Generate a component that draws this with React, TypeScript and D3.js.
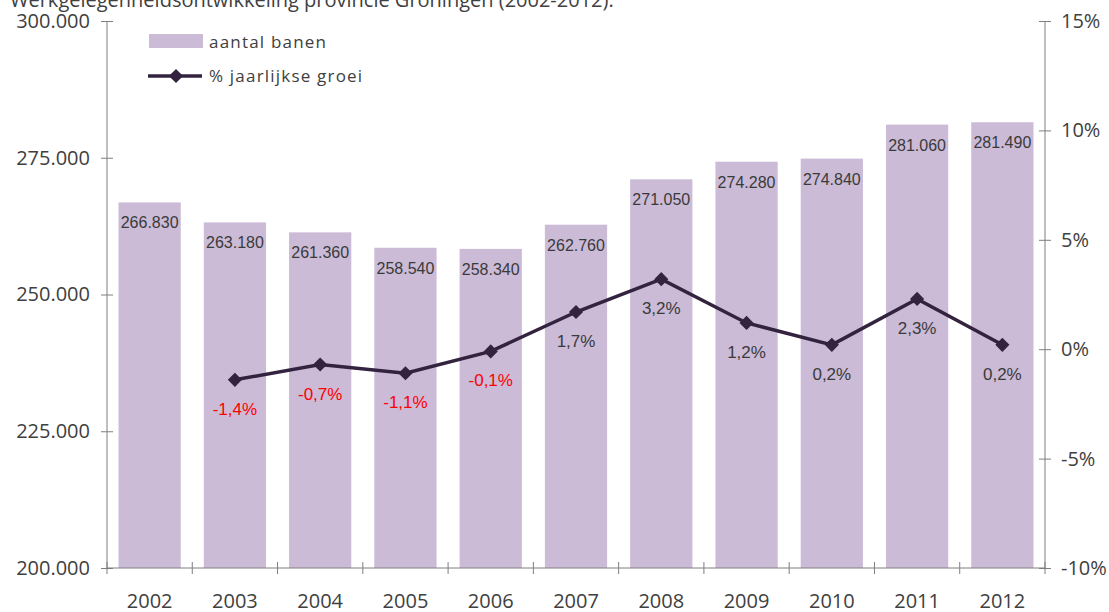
import { useEffect, useRef } from "react";
import * as d3 from "d3";

const years = ["2002", "2003", "2004", "2005", "2006", "2007", "2008", "2009", "2010", "2011", "2012"];
const banen = [266830, 263180, 261360, 258540, 258340, 262760, 271050, 274280, 274840, 281060, 281490];
// groei begins in 2003
const groei = [null, -1.4, -0.7, -1.1, -0.1, 1.7, 3.2, 1.2, 0.2, 2.3, 0.2];
const leftTicks = [200000, 225000, 250000, 275000, 300000];
const rightTicks = [-10, -5, 0, 5, 10, 15];

const title = "Werkgelegenheidsontwikkeling provincie Groningen (2002-2012).";

const fmtNum = (v: number) => d3.format(",")(v).replace(/,/g, ".");
const fmtPct = (v: number) => String(v).replace(".", ",") + "%";

function App() {
  const ref = useRef<SVGSVGElement>(null);

  useEffect(() => {
    const width = 1109;
    const height = 612;
    const left = 107;
    const right = 1045;
    const top = 21;
    const bottom = 568;
    const axisColor = "#7f7f7f";
    const font = "'Open Sans', sans-serif";
    const labelFont = "'Liberation Sans', Arial, sans-serif";

    const svg = d3.select(ref.current).attr("width", width).attr("height", height);
    svg.selectAll("*").remove();

    const x = d3.scaleBand().domain(years).range([left, right]).paddingInner(0).paddingOuter(0);
    const y = d3.scaleLinear().domain([200000, 300000]).range([bottom, top]);
    const y2 = d3.scaleLinear().domain([-10, 15]).range([bottom, top]);
    const barW = x.bandwidth() * 0.73;

    // title (cut off at the top)
    svg.append("text")
      .attr("x", 10).attr("y", 7)
      .attr("font-family", font).attr("font-size", 20).attr("fill", "#404040")
      .text(title);

    // bars
    svg.selectAll(".bar")
      .data(years)
      .join("rect")
      .attr("class", "bar")
      .attr("x", (d) => x(d)! + (x.bandwidth() - barW) / 2)
      .attr("width", barW)
      .attr("y", (d, i) => y(banen[i]))
      .attr("height", (d, i) => bottom - y(banen[i]))
      .attr("fill", "#cbbbd7");

    // bar labels
    svg.selectAll(".barlabel")
      .data(years)
      .join("text")
      .attr("class", "barlabel")
      .attr("x", (d) => x(d)! + x.bandwidth() / 2)
      .attr("y", (d, i) => y(banen[i]) + 26)
      .attr("text-anchor", "middle")
      .attr("font-family", labelFont).attr("font-size", 16).attr("fill", "#3a3a3a")
      .text((d, i) => fmtNum(banen[i]));

    // axes
    const axisL = svg.append("g").attr("transform", `translate(${left},0)`)
      .call(d3.axisLeft(y).tickValues(leftTicks).tickSize(6).tickFormat((d) => fmtNum(+d)));
    const axisR = svg.append("g").attr("transform", `translate(${right},0)`)
      .call(d3.axisRight(y2).tickValues(rightTicks).tickSize(6).tickFormat((d) => d + "%"));
    const axisB = svg.append("g").attr("transform", `translate(0,${bottom})`)
      .call(d3.axisBottom(x).tickSize(0));

    [axisL, axisR, axisB].forEach((g) => {
      g.select(".domain").attr("stroke", axisColor);
      g.selectAll("line").attr("stroke", axisColor);
      g.selectAll("text").attr("font-family", font).attr("font-size", 20).attr("fill", "#404040");
    });
    // ticks crossing the axis lines
    axisL.selectAll(".tick line").attr("x1", 6).attr("x2", -6);
    axisL.select(".domain").attr("d", `M0,${top}V${bottom}`);
    axisL.selectAll(".tick text").attr("x", -17);
    axisR.selectAll(".tick line").attr("x1", -6).attr("x2", 6);
    axisR.select(".domain").attr("d", `M0,${top}V${bottom}`);
    axisR.selectAll(".tick text").attr("x", 16);
    axisB.select(".domain").attr("d", `M${left},0H${right}`);
    axisB.selectAll(".tick text").attr("y", 26);

    // category separators on x axis
    svg.selectAll(".sep")
      .data([...years.map((d) => x(d)!), right])
      .join("line")
      .attr("class", "sep")
      .attr("x1", (d) => d).attr("x2", (d) => d)
      .attr("y1", bottom - 6).attr("y2", bottom + 6)
      .attr("stroke", axisColor);

    // line
    const pts = years
      .map((d, i) => ({ year: d, v: groei[i] }))
      .filter((p) => p.v !== null) as { year: string; v: number }[];
    const cx = (p: { year: string }) => x(p.year)! + x.bandwidth() / 2;
    const lineColor = "#33233f";
    svg.append("path")
      .datum(pts)
      .attr("d", d3.line<{ year: string; v: number }>().x(cx).y((p) => y2(p.v)))
      .attr("fill", "none").attr("stroke", lineColor).attr("stroke-width", 3.5);

    const diamond = d3.symbol().type(d3.symbolSquare).size(100);
    svg.selectAll(".pt")
      .data(pts)
      .join("path")
      .attr("class", "pt")
      .attr("d", diamond)
      .attr("transform", (p) => `translate(${cx(p)},${y2(p.v)}) rotate(45)`)
      .attr("fill", lineColor);

    svg.selectAll(".ptlabel")
      .data(pts)
      .join("text")
      .attr("class", "ptlabel")
      .attr("x", cx)
      .attr("y", (p) => y2(p.v) + 35)
      .attr("text-anchor", "middle")
      .attr("font-family", labelFont).attr("font-size", 17)
      .attr("fill", (p) => (p.v < 0 ? "#ff0000" : "#3a3a3a"))
      .text((p) => fmtPct(p.v));

    // legend
    const lg = svg.append("g");
    lg.append("rect").attr("x", 149).attr("y", 34).attr("width", 54).attr("height", 14).attr("fill", "#cbbbd7");
    lg.append("text").attr("x", 209).attr("y", 48)
      .attr("font-family", font).attr("font-size", 17).attr("letter-spacing", 1.2).attr("fill", "#404040")
      .text("aantal banen");
    lg.append("line").attr("x1", 148).attr("x2", 202).attr("y1", 76).attr("y2", 76)
      .attr("stroke", lineColor).attr("stroke-width", 3.5);
    lg.append("path").attr("d", diamond).attr("transform", "translate(176,76) rotate(45)").attr("fill", lineColor);
    lg.append("text").attr("x", 209).attr("y", 82)
      .attr("font-family", font).attr("font-size", 17).attr("letter-spacing", 1.2).attr("fill", "#404040")
      .text("% jaarlijkse groei");
  }, []);

  return (
    <div>
      <svg ref={ref} style={{ position: "absolute", left: 0, top: 0 }} />
    </div>
  );
}

export default App;
